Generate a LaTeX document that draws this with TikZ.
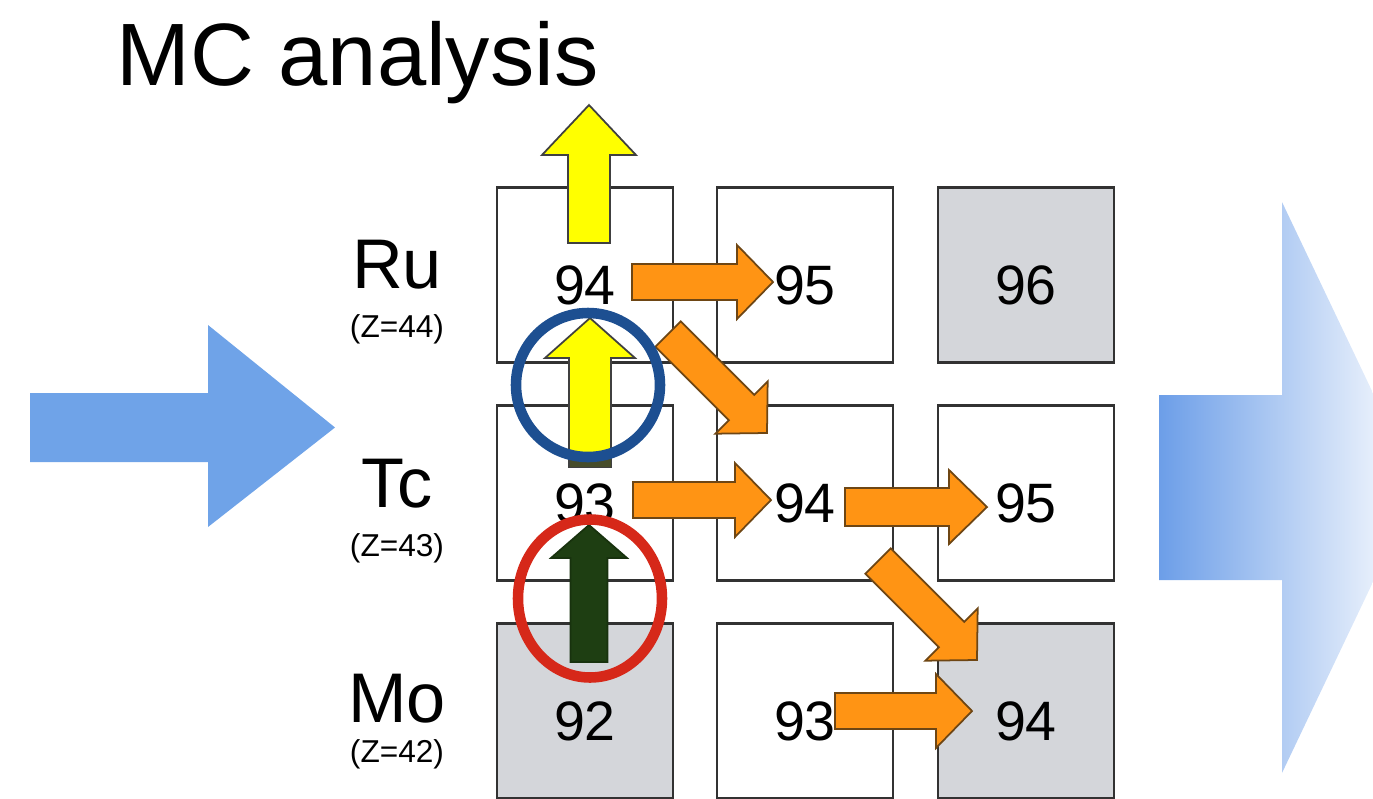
\documentclass[tikz,border=0pt]{standalone}
\usepackage{fontspec}
\setmainfont{Liberation Sans}
\usetikzlibrary{calc}
\definecolor{boxgray}{RGB}{212,214,218}
\definecolor{edgec}{RGB}{50,50,50}
\definecolor{orangeA}{RGB}{255,148,20}
\definecolor{orangeE}{RGB}{110,70,20}
\definecolor{yellowA}{RGB}{255,255,0}
\definecolor{greenA}{RGB}{30,62,18}
\definecolor{blueA}{RGB}{111,163,232}
\definecolor{ringblue}{RGB}{29,79,145}
\definecolor{ringred}{RGB}{214,40,25}
\definecolor{gradL}{RGB}{108,158,232}
\definecolor{stripc}{RGB}{70,76,42}
\tikzset{
  cell/.style={draw=edgec, line width=0.8pt, fill=white, minimum width=1.76cm, minimum height=1.75cm,
    inner sep=0pt, font=\fontsize{15.8}{18}\selectfont, text height=16.5pt, text depth=0pt},
  graycell/.style={cell, fill=boxgray},
  elem/.style={font=\fontsize{20}{24}\selectfont, anchor=base, inner sep=0pt},
  zlab/.style={font=\fontsize{9}{11}\selectfont, anchor=base, inner sep=0pt},
  orangearrow/.style={fill=orangeA, draw=orangeE, line width=0.5pt, line join=miter},
  yellowarrow/.style={fill=yellowA, draw=black!75, line width=0.5pt},
  greenarrow/.style={fill=greenA, draw=greenA!80!black, line width=0.5pt},
  ring/.style={line width=3pt},
}
% #1 style, #2 tail coordinate, #3 angle, #4 length, #5 body half width, #6 head half width, #7 head length
\newcommand{\blockarrow}[7]{%
  \draw[#1, shift={(#2)}, rotate=#3] (0,-#5) -- ({#4-#7},-#5) -- ({#4-#7},-#6) -- (#4,0)
    -- ({#4-#7},#6) -- ({#4-#7},#5) -- (0,#5) -- cycle;}
\begin{document}
\begin{tikzpicture}
\useasboundingbox (0,0) rectangle (13.73,-7.99);
% title
\node[font=\fontsize{25.2}{30}\selectfont, anchor=base, inner sep=0pt] (title) at (3.575,-0.85) {MC analysis};
% left blue arrow
\fill[blueA] (0.30,-3.93) -- (2.08,-3.93) -- (2.08,-3.25) -- (3.35,-4.275) -- (2.08,-5.27)
  -- (2.08,-4.62) -- (0.30,-4.62) -- cycle;
% right gradient arrow
\begin{scope}
  \clip (0,0) rectangle (13.73,-7.99);
  \shade[left color=gradL, right color=white] (11.59,-3.95) -- (12.82,-3.95) -- (12.82,-2.02)
    -- (14.18,-4.875) -- (12.82,-7.73) -- (12.82,-5.80) -- (11.59,-5.80) -- cycle;
\end{scope}
% element labels
\node[elem] (ru) at (3.97,-2.88) {Ru};
\node[zlab] (ruz) at (3.97,-3.37) {(Z=44)};
\node[elem] (tc) at (3.97,-5.07) {Tc};
\node[zlab] (tcz) at (3.97,-5.56) {(Z=43)};
\node[elem] (mo) at (3.97,-7.22) {Mo};
\node[zlab] (moz) at (3.97,-7.62) {(Z=42)};
% cells
\node[cell]     (c11) at (5.85,-2.75) {94};
\node[cell]     (c12) at (8.05,-2.75) {95};
\node[graycell] (c13) at (10.26,-2.75) {96};
\node[cell]     (c21) at (5.85,-4.93) {93};
\node[cell]     (c22) at (8.05,-4.93) {94};
\node[cell]     (c23) at (10.26,-4.93) {95};
\node[graycell] (c31) at (5.85,-7.11) {92};
\node[cell]     (c32) at (8.05,-7.11) {93};
\node[graycell] (c33) at (10.26,-7.11) {94};
% arrow end points
\coordinate (a1) at (6.32,-2.82);
\coordinate (a2) at (6.68,-3.34);
\coordinate (a3) at (6.33,-5.00);
\coordinate (a4) at (8.45,-5.07);
\coordinate (a5) at (8.78,-5.61);
\coordinate (a6) at (8.35,-7.11);
\coordinate (y1) at (5.89,-2.43);
\coordinate (y2) at (5.90,-4.67);
\coordinate (g1) at (5.89,-6.62);
% orange arrows
\blockarrow{orangearrow}{a1}{0}{1.41}{0.18}{0.37}{0.36}
\blockarrow{orangearrow}{a2}{-45}{1.40}{0.18}{0.37}{0.36}
\blockarrow{orangearrow}{a3}{0}{1.38}{0.18}{0.37}{0.36}
\blockarrow{orangearrow}{a4}{0}{1.42}{0.19}{0.37}{0.38}
\blockarrow{orangearrow}{a5}{-45}{1.40}{0.18}{0.37}{0.36}
\blockarrow{orangearrow}{a6}{0}{1.37}{0.18}{0.37}{0.36}
% yellow arrows
\blockarrow{yellowarrow}{y1}{90}{1.38}{0.21}{0.47}{0.50}
\blockarrow{yellowarrow}{y2}{90}{1.49}{0.21}{0.45}{0.40}
\fill[stripc] (5.70,-4.58) rectangle (6.11,-4.67);
% dark green arrow
\blockarrow{greenarrow}{g1}{90}{1.37}{0.185}{0.38}{0.33}
% rings
\draw[ring, ringblue] (5.88,-3.85) ellipse [x radius=0.72, y radius=0.72];
\draw[ring, ringred] (5.90,-5.985) ellipse [x radius=0.72, y radius=0.79];
\end{tikzpicture}
\end{document}
